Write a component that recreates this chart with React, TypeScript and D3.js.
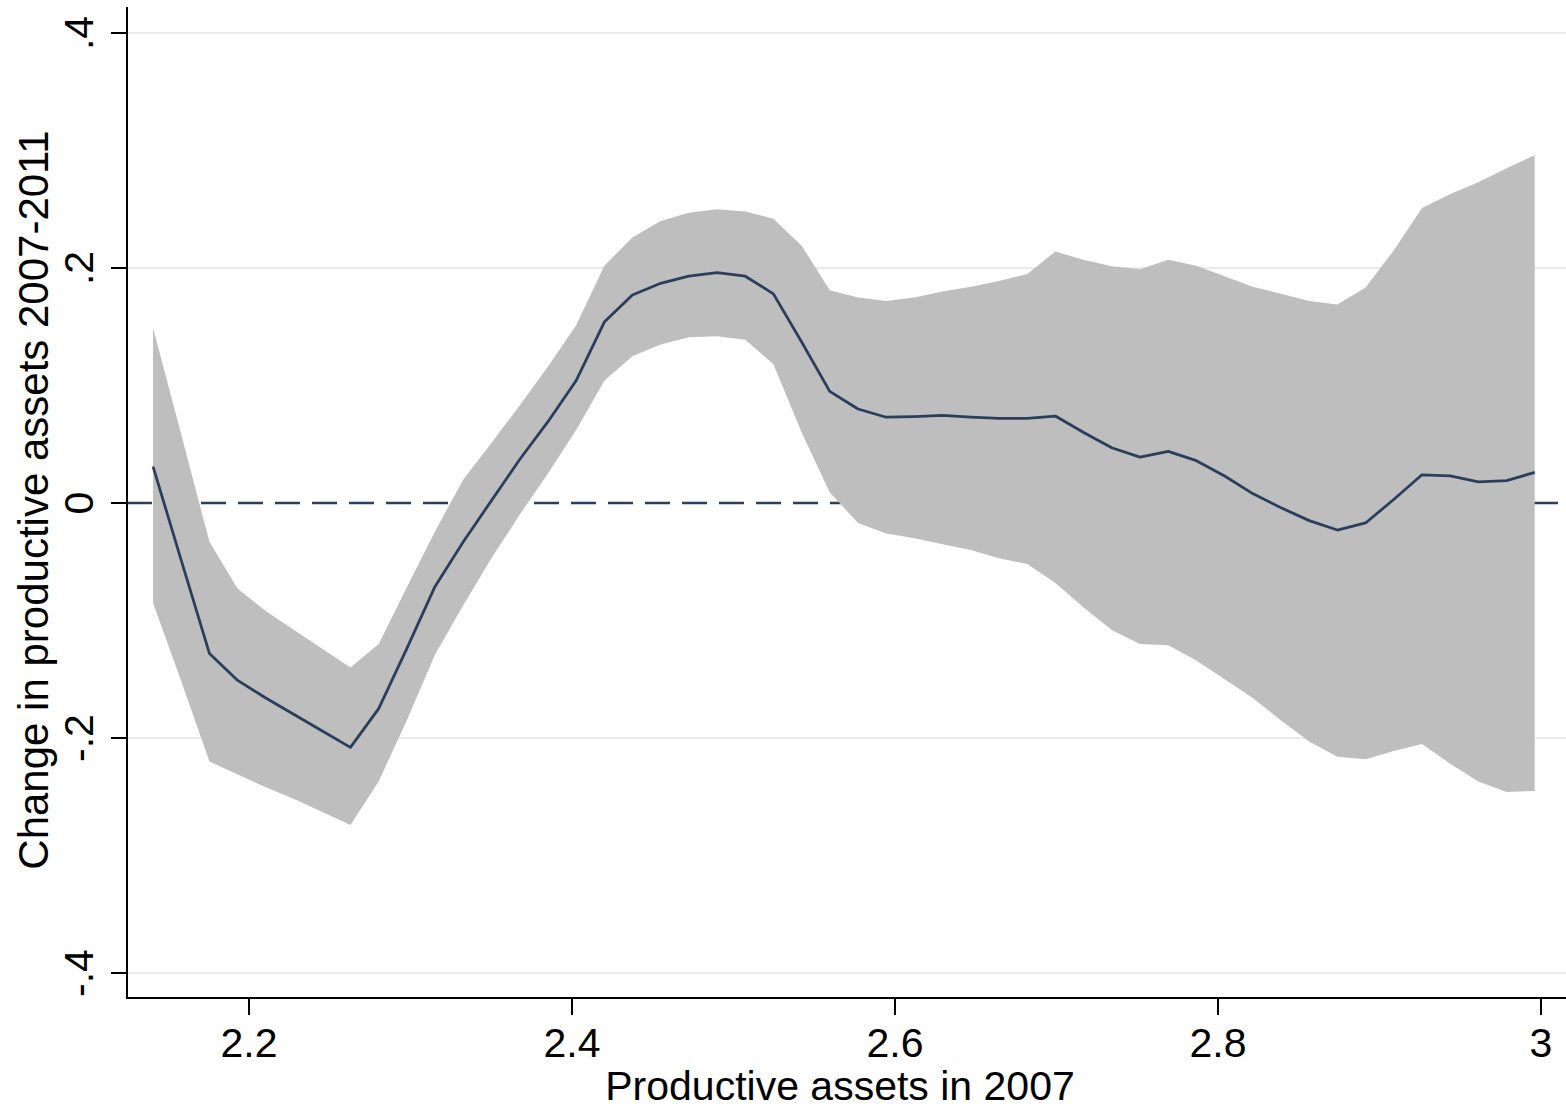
import React from "react";
import * as d3 from "d3";

const xGrid: number[] = [
  2.1406, 2.1581, 2.1755, 2.193, 2.2104, 2.2279, 2.2454, 2.2628, 2.2803, 2.2977,
  2.3152, 2.3327, 2.3501, 2.3676, 2.385, 2.4025, 2.42, 2.4374, 2.4549, 2.4723,
  2.4898, 2.5073, 2.5247, 2.5422, 2.5596, 2.5771, 2.5946, 2.612, 2.6295, 2.6469,
  2.6644, 2.6819, 2.6993, 2.7168, 2.7342, 2.7517, 2.7692, 2.7866, 2.8041, 2.8215,
  2.839, 2.8565, 2.8739, 2.8914, 2.9088, 2.9263, 2.9438, 2.9612, 2.9787, 2.9961,
];

const fitted: number[] = [
  0.031, -0.049, -0.128, -0.151, -0.166, -0.18, -0.194, -0.208, -0.175, -0.124,
  -0.071, -0.033, 0.002, 0.037, 0.069, 0.104, 0.154, 0.177, 0.187, 0.193,
  0.196, 0.193, 0.178, 0.137, 0.095, 0.08, 0.073, 0.0735, 0.0745, 0.073,
  0.072, 0.072, 0.074, 0.06, 0.047, 0.039, 0.044, 0.036, 0.023, 0.008,
  -0.004, -0.015, -0.023, -0.017, 0.003, 0.024, 0.023, 0.018, 0.019, 0.026,
];

const upper: number[] = [
  0.149, 0.058, -0.033, -0.073, -0.092, -0.108, -0.124, -0.14, -0.12, -0.072,
  -0.024, 0.02, 0.051, 0.083, 0.116, 0.151, 0.202, 0.226, 0.24, 0.247,
  0.25, 0.248, 0.242, 0.219, 0.181, 0.175, 0.172, 0.175, 0.18, 0.184,
  0.189, 0.195, 0.214, 0.207, 0.2015, 0.199, 0.207, 0.202, 0.193, 0.184,
  0.178, 0.172, 0.169, 0.1835, 0.215, 0.251, 0.263, 0.273, 0.285, 0.296,
];

const lower: number[] = [
  -0.085, -0.152, -0.22, -0.231, -0.242, -0.252, -0.263, -0.274, -0.237, -0.185,
  -0.129, -0.087, -0.047, -0.01, 0.025, 0.062, 0.104, 0.125, 0.135, 0.141,
  0.142, 0.139, 0.118, 0.06, 0.009, -0.017, -0.026, -0.03, -0.035, -0.04,
  -0.047, -0.052, -0.068, -0.089, -0.108, -0.12, -0.121, -0.134, -0.15, -0.166,
  -0.185, -0.203, -0.216, -0.218, -0.211, -0.205, -0.222, -0.237, -0.246, -0.245,
];

const xTicks: number[] = [2.2, 2.4, 2.6, 2.8, 3];
const xTickLabels: string[] = ["2.2", "2.4", "2.6", "2.8", "3"];
const yTicks: number[] = [-0.4, -0.2, 0, 0.2, 0.4];
const yTickLabels: string[] = ["-.4", "-.2", "0", ".2", ".4"];

const xTitle = "Productive assets in 2007";
const yTitle = "Change in productive assets 2007-2011";

const W = 1566;
const H = 1111;
const axisX = 127;
const axisY = 998;
const axisTop = 7;
const FONT = "'Liberation Sans', Arial, Helvetica, sans-serif";
const NAVY = "#2b3e5c";

export default function App() {
  const x = d3.scaleLinear().domain([2.2, 3.0]).range([249, 1541]);
  const y = d3.scaleLinear().domain([-0.4, 0.4]).range([973, 33]);

  const rows = xGrid.map((xv, i) => ({ x: xv, m: fitted[i], lo: lower[i], hi: upper[i] }));

  const area = d3
    .area<{ x: number; m: number; lo: number; hi: number }>()
    .x((d) => x(d.x))
    .y0((d) => y(d.lo))
    .y1((d) => y(d.hi));
  const line = d3
    .line<{ x: number; m: number; lo: number; hi: number }>()
    .x((d) => x(d.x))
    .y((d) => y(d.m));

  return (
    <svg
      width={W}
      height={H}
      style={{ position: "absolute", left: 0, top: 0, background: "#fff" }}
      fontFamily={FONT}
    >
      <rect x={0} y={0} width={W} height={H} fill="#fff" />
      {yTicks
        .filter((t) => t !== 0)
        .map((t) => (
          <line
            key={"g" + t}
            x1={axisX}
            x2={W}
            y1={y(t)}
            y2={y(t)}
            stroke="#ebebeb"
            strokeWidth={2}
          />
        ))}
      <line
        x1={axisX}
        x2={W}
        y1={y(0)}
        y2={y(0)}
        stroke={NAVY}
        strokeWidth={2.6}
        strokeDasharray="25 12"
      />
      <path d={area(rows) || ""} fill="#bebebe" stroke="none" />
      <path d={line(rows) || ""} fill="none" stroke={NAVY} strokeWidth={2.8} strokeLinejoin="round" />
      <line x1={axisX} x2={axisX} y1={axisTop} y2={axisY + 1} stroke="#000" strokeWidth={2} />
      <line x1={axisX - 1} x2={W} y1={axisY} y2={axisY} stroke="#000" strokeWidth={2} />
      {yTicks.map((t, i) => (
        <g key={"yt" + t}>
          <line x1={axisX - 16} x2={axisX} y1={y(t)} y2={y(t)} stroke="#000" strokeWidth={2} />
          <text
            transform={`translate(${93},${y(t)}) rotate(-90)`}
            textAnchor="middle"
            fontSize={41}
            fill="#000"
          >
            {yTickLabels[i]}
          </text>
        </g>
      ))}
      {xTicks.map((t, i) => (
        <g key={"xt" + t}>
          <line x1={x(t)} x2={x(t)} y1={axisY} y2={axisY + 17} stroke="#000" strokeWidth={2} />
          <text x={x(t)} y={1057} textAnchor="middle" fontSize={41} fill="#000">
            {xTickLabels[i]}
          </text>
        </g>
      ))}
      <text x={840} y={1100} textAnchor="middle" fontSize={41} fill="#000">
        {xTitle}
      </text>
      <text
        transform={`translate(${48},${500}) rotate(-90)`}
        textAnchor="middle"
        fontSize={42}
        fill="#000"
      >
        {yTitle}
      </text>
    </svg>
  );
}
